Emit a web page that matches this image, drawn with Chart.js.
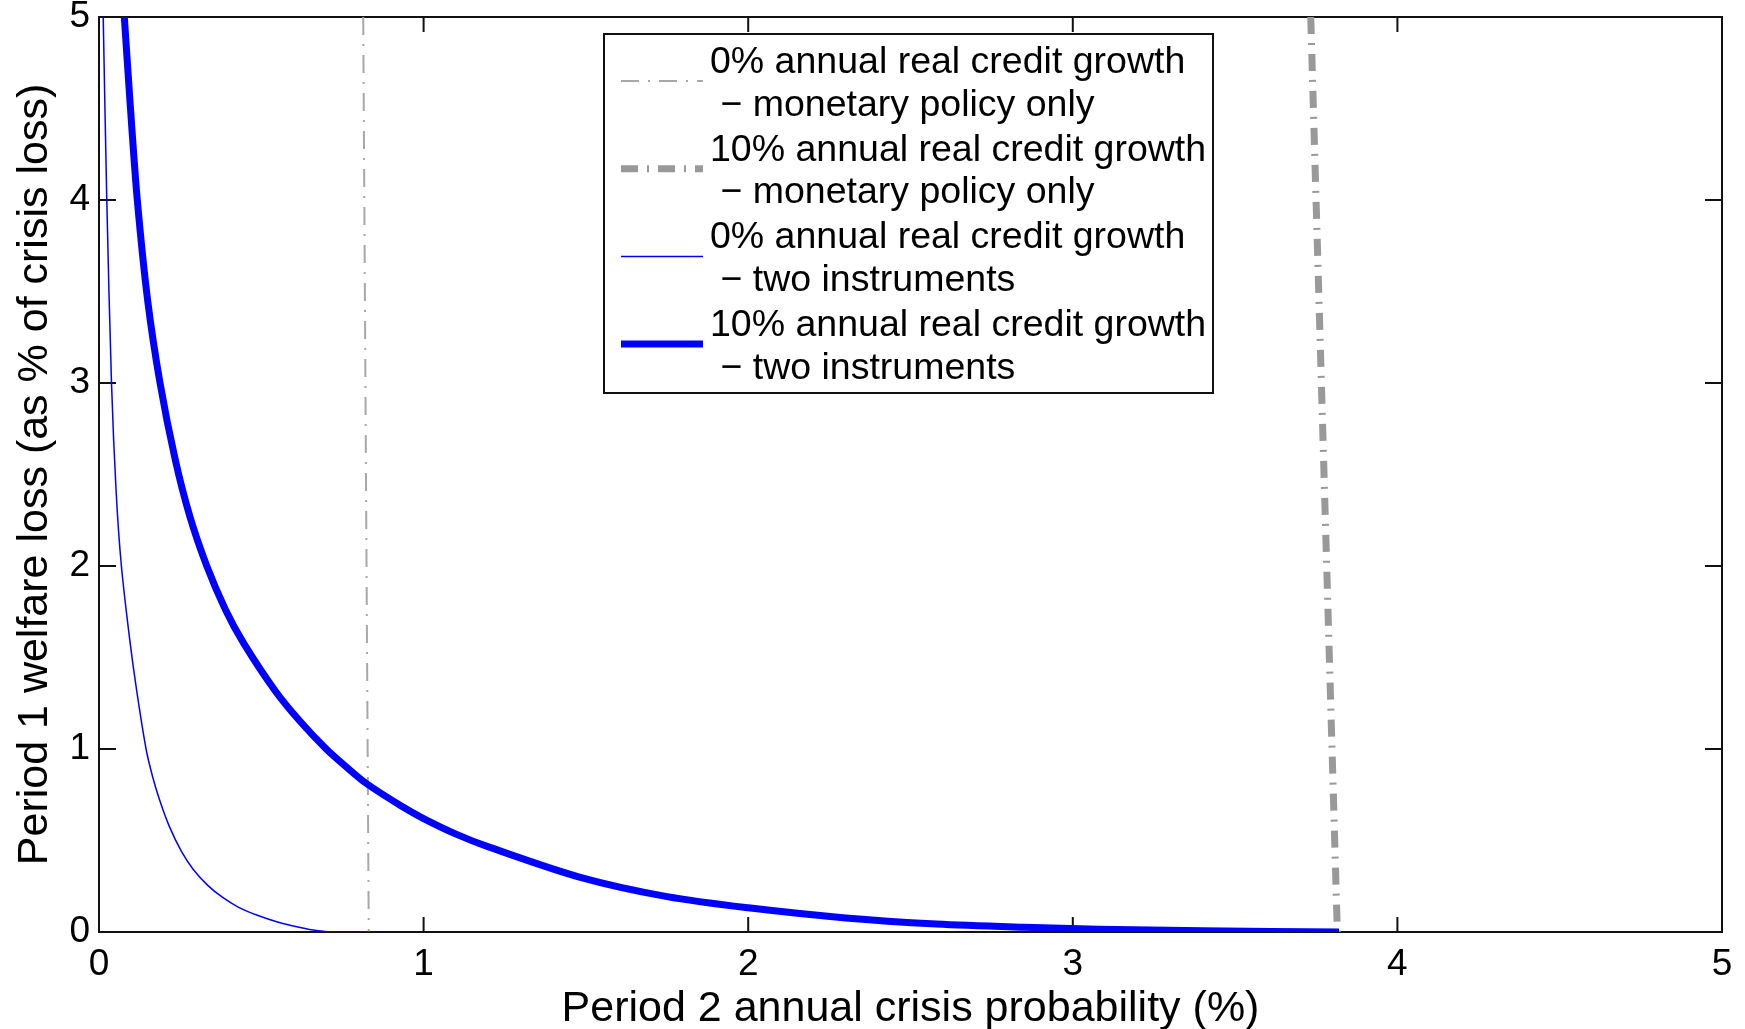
<!DOCTYPE html>
<html lang="en">
  <head>
    <meta charset="UTF-8" />
    <title>Welfare loss vs crisis probability</title>
    <script src="https://cdn.jsdelivr.net/npm/chart.js@4"></script>
    <style>
      body { margin: 0; background: #fff; }
      #wrap { width: 1745px; height: 1029px; }
    </style>
  </head>
  <body>
    <div id="wrap"><canvas id="grafico"></canvas></div>

    <script>
      // axis ticks
      const xTicks = [0, 1, 2, 3, 4, 5];
      const yTicks = [0, 1, 2, 3, 4, 5];

      const tituloX = "Period 2 annual crisis probability (%)";
      const tituloY = "Period 1 welfare loss (as % of crisis loss)";

      const nomes = [
        "0% annual real credit growth\n − monetary policy only",
        "10% annual real credit growth\n − monetary policy only",
        "0% annual real credit growth\n − two instruments",
        "10% annual real credit growth\n − two instruments",
      ];

      // monetary policy only (almost vertical lines)
      const mp0X = [0.814, 0.831];
      const mp0Y = [5, 0];
      const mp10X = [3.733, 3.815];
      const mp10Y = [5, 0];

      // two instruments, 0% credit growth
      const dois0X = [0.013, 0.024, 0.0385, 0.053, 0.069, 0.0945, 0.116, 0.145, 0.165, 0.187, 0.216, 0.254, 0.291, 0.335, 0.38, 0.43, 0.49, 0.55, 0.62, 0.67, 0.72, 0.835];
      const dois0Y = [5.0, 4.0, 3.0, 2.4, 2.0, 1.6, 1.32, 1.0, 0.85, 0.72, 0.58, 0.44, 0.34, 0.255, 0.19, 0.135, 0.09, 0.055, 0.025, 0.008, 0.0, 0.0];

      // two instruments, 10% credit growth
      const dois10X = [0.078, 0.097, 0.118, 0.150, 0.188, 0.235, 0.280, 0.332, 0.390, 0.445, 0.542, 0.620, 0.700, 0.760, 0.825, 0.930, 1.000, 1.100, 1.200, 1.480, 1.750, 2.000, 2.300, 2.580, 2.850, 3.080, 3.400, 3.820];
      const dois10Y = [5.00, 4.50, 4.00, 3.45, 3.00, 2.58, 2.27, 2.00, 1.76, 1.58, 1.32, 1.15, 1.00, 0.905, 0.81, 0.69, 0.62, 0.535, 0.465, 0.30, 0.193, 0.132, 0.077, 0.044, 0.026, 0.015, 0.007, 0.0];

      function pontos(xs, ys) {
        return xs.map((v, i) => ({ x: v, y: ys[i] }));
      }

      const fonte = "'Liberation Sans', Arial, sans-serif";
      Chart.defaults.font.family = fonte;
      Chart.defaults.color = "#000";

      // frame with inward ticks on all four sides (drawn under the lines)
      const moldura = {
        id: "moldura",
        beforeDatasetsDraw(chart) {
          const { ctx, chartArea: a, scales } = chart;
          ctx.save();
          ctx.strokeStyle = "#111";
          ctx.lineWidth = 2;
          ctx.strokeRect(a.left, a.top, a.right - a.left, a.bottom - a.top);
          ctx.beginPath();
          xTicks.forEach((v) => {
            const px = scales.x.getPixelForValue(v);
            ctx.moveTo(px, a.bottom);
            ctx.lineTo(px, a.bottom - 15);
            ctx.moveTo(px, a.top);
            ctx.lineTo(px, a.top + 15);
          });
          yTicks.forEach((v) => {
            const py = scales.y.getPixelForValue(v);
            ctx.moveTo(a.left, py);
            ctx.lineTo(a.left + 17, py);
            ctx.moveTo(a.right, py);
            ctx.lineTo(a.right - 17, py);
          });
          ctx.stroke();
          ctx.restore();
        },
      };

      // boxed legend with two-line entries
      const legenda = {
        id: "legenda",
        afterDraw(chart) {
          const ctx = chart.ctx;
          ctx.save();
          ctx.fillStyle = "#fff";
          ctx.fillRect(604, 34, 609, 359);
          ctx.strokeStyle = "#111";
          ctx.lineWidth = 2;
          ctx.strokeRect(604, 34, 609, 359);
          ctx.font = "37.5px " + fonte;
          ctx.textBaseline = "alphabetic";
          chart.data.datasets.forEach((ds, i) => {
            const base = 73 + i * 87.7;
            ctx.beginPath();
            ctx.strokeStyle = ds.borderColor;
            ctx.lineWidth = ds.borderWidth;
            ctx.setLineDash(ds.borderDash || []);
            ctx.moveTo(621, base + 8);
            ctx.lineTo(703, base + 8);
            ctx.stroke();
            ctx.setLineDash([]);
            ctx.fillStyle = "#000";
            ds.label.split("\n").forEach((linha, j) => {
              ctx.fillText(linha, 710, base + j * 42.5);
            });
          });
          ctx.restore();
        },
      };

      const config = {
        type: "line",
        data: {
          datasets: [
            {
              label: nomes[0],
              data: pontos(mp0X, mp0Y),
              borderColor: "#a8a8a8",
              borderWidth: 2,
              borderDash: [18, 9, 2, 9],
              order: 4,
            },
            {
              label: nomes[1],
              data: pontos(mp10X, mp10Y),
              borderColor: "#999999",
              borderWidth: 7,
              borderDash: [17, 9, 2, 9],
              order: 3,
            },
            {
              label: nomes[2],
              data: pontos(dois0X, dois0Y),
              borderColor: "#0000ff",
              borderWidth: 1.5,
              tension: 0.3,
              order: 2,
            },
            {
              label: nomes[3],
              data: pontos(dois10X, dois10Y),
              borderColor: "#0000ff",
              borderWidth: 7,
              tension: 0.3,
              order: 1,
            },
          ],
        },
        options: {
          responsive: true,
          maintainAspectRatio: false,
          animation: false,
          elements: { point: { radius: 0 }, line: { fill: false } },
          layout: { padding: { top: 17, right: 23, left: 0, bottom: 0 } },
          plugins: { legend: { display: false }, tooltip: { enabled: false } },
          scales: {
            x: {
              type: "linear",
              min: 0,
              max: 5,
              grid: { display: false, drawTicks: false },
              border: { display: false },
              ticks: { stepSize: 1, padding: 11, font: { size: 37 }, color: "#000", maxRotation: 0 },
              title: { display: true, text: tituloX, font: { size: 43 }, color: "#000", padding: { top: 0, bottom: -6 } },
              afterFit(s) {
                s.height = 97;
                s.paddingLeft = 0;
                s.paddingRight = 0;
              },
            },
            y: {
              type: "linear",
              min: 0,
              max: 5,
              grid: { display: false, drawTicks: false },
              border: { display: false },
              ticks: { stepSize: 1, padding: 9, font: { size: 37 }, color: "#000" },
              title: { display: true, text: tituloY, font: { size: 43 }, color: "#000", padding: { top: 9.5, bottom: 0 } },
              afterFit(s) {
                s.width = 99;
                s.paddingTop = 0;
                s.paddingBottom = 0;
              },
            },
          },
        },
        plugins: [moldura, legenda],
      };

      new Chart(document.getElementById("grafico"), config);
    </script>
  </body>
</html>
